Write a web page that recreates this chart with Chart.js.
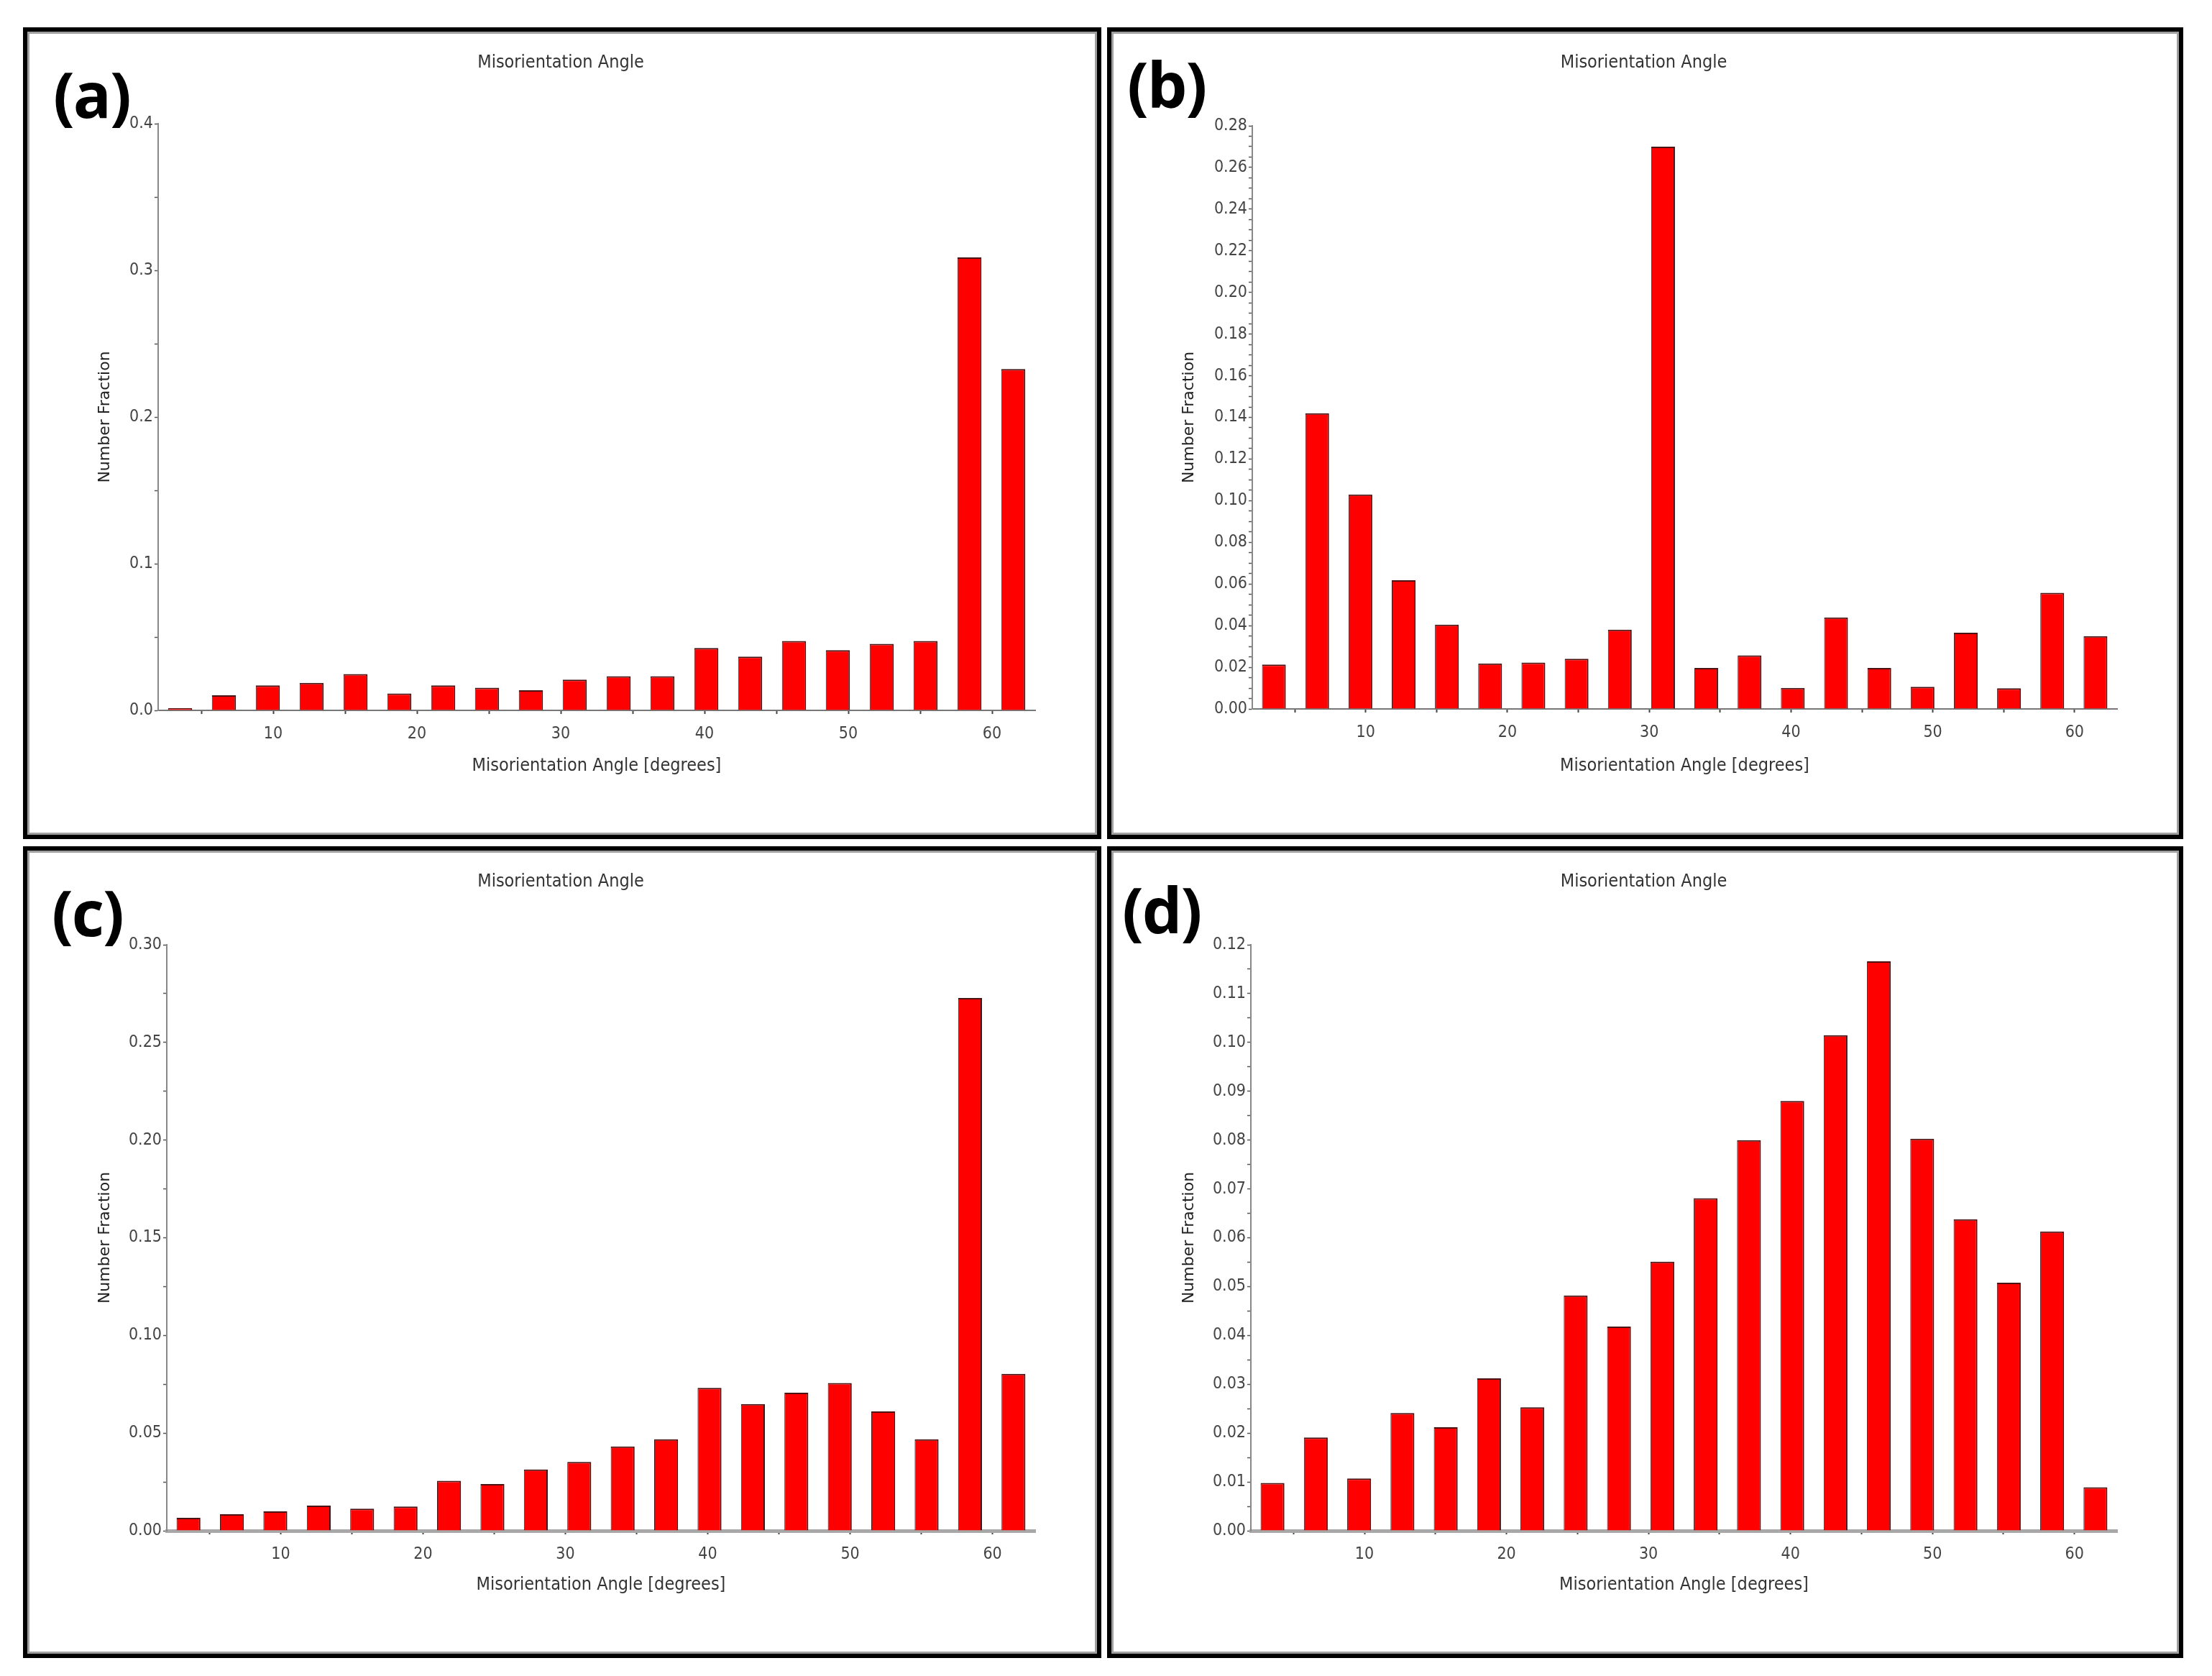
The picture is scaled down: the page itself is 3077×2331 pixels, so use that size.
<!DOCTYPE html>
<html>
<head>
<meta charset="utf-8">
<script src="https://cdn.jsdelivr.net/npm/chart.js@4.4.1/dist/chart.umd.min.js"></script>
<style>
  html, body { margin: 0; padding: 0; background: #fff; }
  body { width: 3077px; height: 2331px; position: relative; overflow: hidden; }
  .panel { position: absolute; }
  .panel canvas { position: absolute; left: 0; top: 0; }
  .frame { position: absolute; left: 0; top: 0; right: 0; bottom: 0; border: 6px solid #000; box-shadow: inset 0 0 0 3px #a0a0a0; pointer-events: none; }
  .tag { position: absolute; font-family: "Open Sans", "Noto Sans", sans-serif; font-weight: 700; font-size: 88px; line-height: 1; color: #000; letter-spacing: -2px; }
</style>
</head>
<body>
<div class="panel" style="left:32px;top:38px;width:1500px;height:1129px">
  <canvas id="chartA" width="1500" height="1129"></canvas>
  <div class="frame"></div>
  <div class="tag" style="left:42px;top:48px">(a)</div>
</div>
<div class="panel" style="left:1540px;top:38px;width:1497px;height:1129px">
  <canvas id="chartB" width="1497" height="1129"></canvas>
  <div class="frame"></div>
  <div class="tag" style="left:28px;top:34px">(b)</div>
</div>
<div class="panel" style="left:32px;top:1177px;width:1500px;height:1129px">
  <canvas id="chartC" width="1500" height="1129"></canvas>
  <div class="frame"></div>
  <div class="tag" style="left:40px;top:47px">(c)</div>
</div>
<div class="panel" style="left:1540px;top:1177px;width:1497px;height:1129px">
  <canvas id="chartD" width="1497" height="1129"></canvas>
  <div class="frame"></div>
  <div class="tag" style="left:21px;top:43px">(d)</div>
</div>

<script>
// histogram bins (centre of each 3.05 degree bin, axis runs 2..63)
const angleBins = ['3.5', '6.6', '9.6', '12.7', '15.7', '18.8', '21.8', '24.9', '27.9', '31.0',
                   '34.0', '37.1', '40.1', '43.2', '46.2', '49.3', '52.3', '55.4', '58.4', '61.5'];
const angleTicks = [5, 10, 15, 20, 25, 30, 35, 40, 45, 50, 55, 60];

const fracA = [0.0015, 0.0103, 0.0170, 0.0188, 0.0247, 0.0115, 0.0170, 0.0155, 0.0137, 0.0210,
               0.0233, 0.0233, 0.0425, 0.0366, 0.0473, 0.0410, 0.0454, 0.0473, 0.3088, 0.2327];
const fracB = [0.0213, 0.1420, 0.1030, 0.0618, 0.0405, 0.0218, 0.0223, 0.0241, 0.0381, 0.2700,
               0.0197, 0.0257, 0.0101, 0.0439, 0.0197, 0.0106, 0.0366, 0.0099, 0.0558, 0.0350];
const fracC = [0.0066, 0.0085, 0.0099, 0.0129, 0.0113, 0.0124, 0.0256, 0.0239, 0.0314, 0.0352,
               0.0432, 0.0468, 0.0732, 0.0649, 0.0707, 0.0756, 0.0611, 0.0468, 0.2728, 0.0803];
const fracD = [0.0098, 0.0191, 0.0107, 0.0241, 0.0212, 0.0312, 0.0253, 0.0482, 0.0418, 0.0551,
               0.0681, 0.0800, 0.0880, 0.1015, 0.1166, 0.0803, 0.0638, 0.0508, 0.0613, 0.0089];

const narrowFont = '"DejaVu Sans Condensed", "Liberation Sans Narrow", "DejaVu Sans", sans-serif';

function makeChart(canvasId, values, o) {
    const ctx = document.getElementById(canvasId);
    const W = ctx.width, H = ctx.height;
    const padL = 88, padB = 87;

    return new Chart(ctx, {
        type: 'bar',
        data: {
            labels: angleBins,
            datasets: [{
                data: values,
                backgroundColor: '#ff0000',
                borderColor: '#4a1414',
                borderWidth: { top: 2, right: 2, left: 1, bottom: 0 },
                barPercentage: 0.55,
                categoryPercentage: 1,
                xAxisID: 'x',
                yAxisID: 'y'
            }]
        },
        options: {
            responsive: false,
            animation: false,
            layout: { padding: { left: padL, right: W - o.right, top: 0, bottom: padB } },
            plugins: {
                legend: { display: false },
                tooltip: { enabled: false },
                title: {
                    display: true,
                    text: 'Misorientation Angle',
                    color: '#333',
                    font: { family: narrowFont, size: 25, weight: 'normal' },
                    padding: { top: 34, bottom: o.top - 34 - 30 }
                }
            },
            scales: {
                x: { type: 'category', display: false, offset: true },
                xt: {
                    type: 'linear',
                    position: 'bottom',
                    min: 2,
                    max: 63,
                    offset: false,
                    afterBuildTicks: s => { s.ticks = angleTicks.map(v => ({ value: v })); },
                    afterFit: s => { s.height = H - padB - o.bottom; },
                    grid: { offset: false, drawOnChartArea: false, tickLength: 5, tickColor: '#444', tickWidth: 2 },
                    border: { display: true, color: o.baseColor, width: o.baseWidth },
                    ticks: {
                        autoSkip: false, maxRotation: 0, padding: 14, color: '#444',
                        font: { family: narrowFont, size: 23 },
                        callback: v => (v % 10 === 0 ? String(v) : '')
                    },
                    title: {
                        display: true,
                        text: 'Misorientation Angle [degrees]',
                        color: '#333',
                        font: { family: narrowFont, size: 25 },
                        padding: { top: 0, bottom: 0 }
                    }
                },
                y: {
                    min: 0,
                    max: o.yMax,
                    afterFit: s => { s.width = o.left - padL; },
                    grid: { drawOnChartArea: false, tickLength: 5, tickColor: '#555', tickWidth: 1.5 },
                    border: { display: true, color: '#888', width: 2 },
                    ticks: {
                        stepSize: o.yMinor, autoSkip: false, padding: 2, color: '#444',
                        font: { family: narrowFont, size: 23 },
                        callback: v => (Math.abs(v / o.yMajor - Math.round(v / o.yMajor)) < 1e-6 ? v.toFixed(o.decimals) : '')
                    },
                    title: {
                        display: true,
                        text: 'Number Fraction',
                        color: '#222',
                        font: { family: '"DejaVu Sans", sans-serif', size: 22 },
                        padding: { top: 13, bottom: 0 }
                    }
                }
            }
        }
    });
}

makeChart('chartA', fracA, { yMax: 0.4, yMajor: 0.1, yMinor: 0.05, decimals: 1,
    left: 188, top: 134, bottom: 950, right: 1408, baseColor: '#777', baseWidth: 2 });
makeChart('chartB', fracB, { yMax: 0.28, yMajor: 0.02, yMinor: 0.005, decimals: 2,
    left: 202, top: 137, bottom: 948, right: 1405, baseColor: '#777', baseWidth: 2 });
makeChart('chartC', fracC, { yMax: 0.30, yMajor: 0.05, yMinor: 0.025, decimals: 2,
    left: 200, top: 137, bottom: 952, right: 1408, baseColor: '#a8a8a8', baseWidth: 5 });
makeChart('chartD', fracD, { yMax: 0.12, yMajor: 0.01, yMinor: 0.005, decimals: 2,
    left: 200, top: 137, bottom: 952, right: 1405, baseColor: '#a8a8a8', baseWidth: 5 });
</script>
</body>
</html>
